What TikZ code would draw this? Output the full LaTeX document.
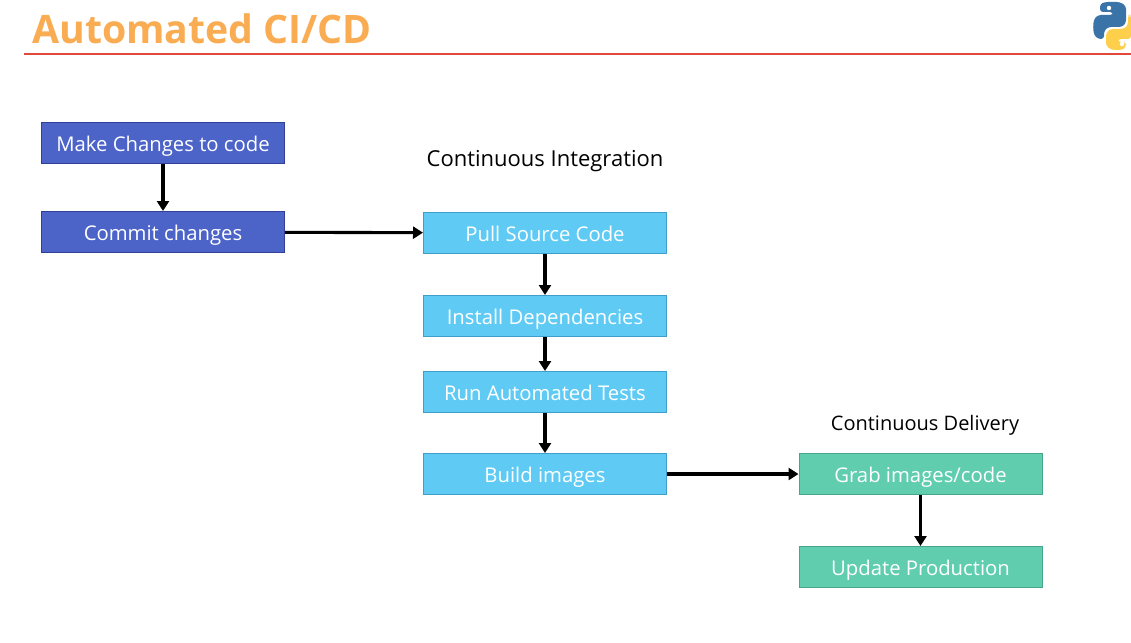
\documentclass[tikz,border=0pt]{standalone}
\usepackage{fontspec}
\setmainfont{Open Sans}
\usetikzlibrary{arrows.meta}
\definecolor{titleor}{HTML}{F9AC52}
\definecolor{rulered}{HTML}{E0483C}
\definecolor{dblue}{HTML}{4C63C8}
\definecolor{dblueb}{HTML}{2F4096}
\definecolor{lblue}{HTML}{5FCBF5}
\definecolor{lblueb}{HTML}{3F9FC8}
\definecolor{grn}{HTML}{5FCDAE}
\definecolor{grnb}{HTML}{46A58B}
\definecolor{pyblue}{HTML}{3A73A8}
\definecolor{pyyel}{HTML}{FDCF4A}
\tikzset{
  x=1pt,y=-1pt,
  box/.style={minimum width=243pt,minimum height=41pt,inner xsep=0pt,inner ysep=0pt,text height=22pt,text depth=5pt,line width=1pt,text=white,font=\fontsize{20.3}{24}\selectfont,anchor=center},
  devbox/.style={box,fill=dblue,draw=dblueb},
  cibox/.style={box,fill=lblue,draw=lblueb},
  cdbox/.style={box,fill=grn,draw=grnb},
  head/.style={text=black,inner sep=0pt,anchor=base},
  flow/.style={draw=black,line width=3.1pt,-{Triangle[length=10pt,width=12pt]}},
}
\begin{document}
\begin{tikzpicture}
\useasboundingbox (0,0) rectangle (1131,642);
\fill[white] (0,0) rectangle (1131,642);
\node[text=titleor,inner sep=0pt,anchor=base west,font=\fontsize{39.2}{44}\selectfont\bfseries] (title) at (32,43.5) {Automated CI/CD};
\coordinate (ruleL) at (24,54);
\coordinate (ruleR) at (1131,54);
\draw[rulered,line width=1.3pt] (ruleL) -- (ruleR);
% python logo
\fill[pyblue,rounded corners=3pt] (1112,2) -- (1105,2) -- (1100,4) -- (1100,12) -- (1113,12) -- (1113,15) -- (1098,15) -- (1094,19) -- (1093,27) -- (1094,35) -- (1098,39) -- (1104,39) -- (1104,31) -- (1108,27) -- (1122,27) -- (1126,23) -- (1126,6) -- (1120,2) -- cycle;
\fill[pyyel,rounded corners=3pt] (1131,15) -- (1128,15) -- (1128,25) -- (1124,29) -- (1110,29) -- (1106,33) -- (1106,46) -- (1112,50) -- (1122,50) -- (1126,47) -- (1126,42) -- (1118,42) -- (1118,39) -- (1131,39) -- cycle;
\fill[white] (1109,8) circle (2.2);
\fill[white] (1122,44) circle (2.2);

\node[devbox] (make) at (163,143) {Make Changes to code};
\node[devbox] (commit) at (163,232) {Commit changes};
\node[head,font=\fontsize{22}{26}\selectfont] (cilabel) at (545,166) {Continuous Integration};
\node[cibox] (pull) at (545,233) {Pull Source Code};
\node[cibox] (deps) at (545,316) {Install Dependencies};
\node[cibox] (test) at (545,392) {Run Automated Tests};
\node[cibox] (build) at (545,474) {Build images};
\node[head,font=\fontsize{20}{24}\selectfont] (cdlabel) at (925,430) {Continuous Delivery};
\node[cdbox] (grab) at (920.5,474) {Grab images/code};
\node[cdbox] (prod) at (920.5,567) {Update Production};
\draw[flow] (make) -- (commit);
\draw[flow] (commit) -- (pull);
\draw[flow] (pull) -- (deps);
\draw[flow] (deps) -- (test);
\draw[flow] (test) -- (build);
\draw[flow] (build) -- (grab);
\draw[flow] (grab) -- (prod);
\end{tikzpicture}
\end{document}
